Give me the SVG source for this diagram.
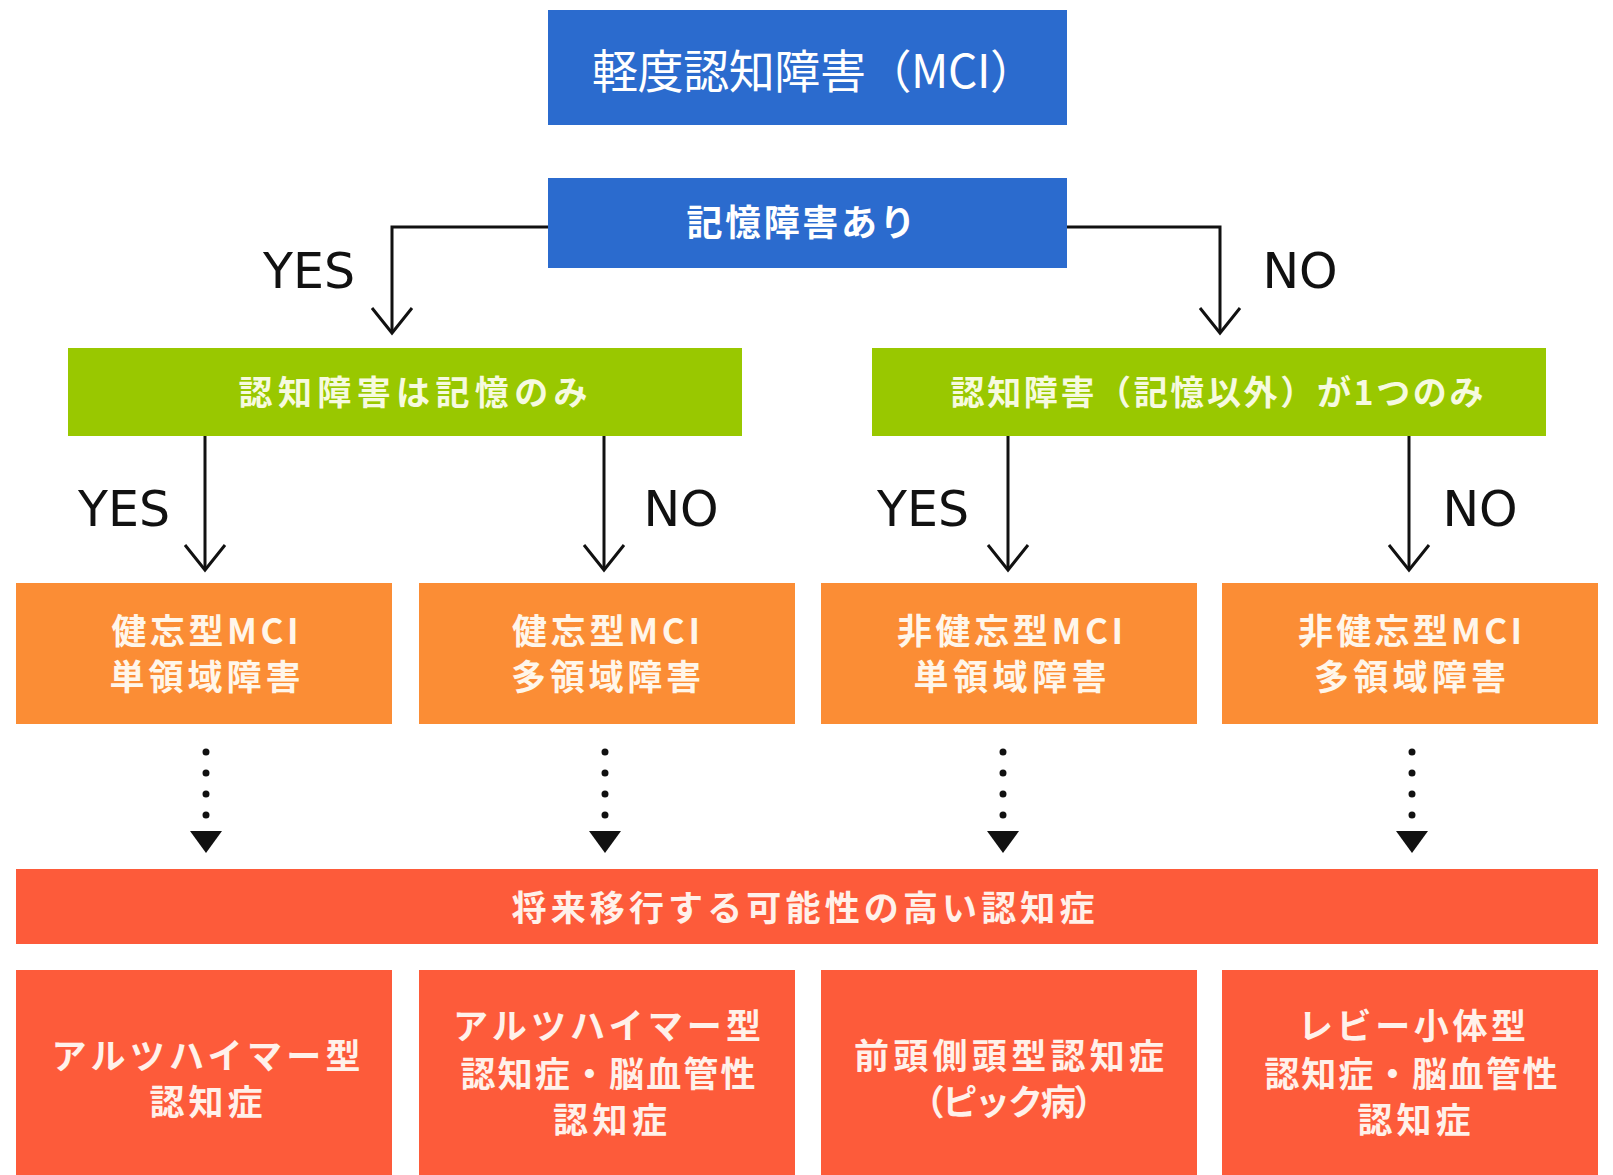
<svg xmlns="http://www.w3.org/2000/svg" width="1613" height="1175" viewBox="0 0 1613 1175">
<style>
.jp{font-family:"Noto Sans CJK JP","Noto Sans",sans-serif;fill:#fff;text-anchor:middle}
.t{font-size:46px;font-weight:normal}
.b{font-size:36px;font-weight:bold}
.g{font-size:34px;font-weight:bold;fill:#f6fadf}
.o{font-size:35px;font-weight:bold;fill:#fff6ea}
.r{font-size:35px;font-weight:bold;fill:#fff1ea}
.lbl{font-family:"DejaVu Sans","Noto Sans",sans-serif;font-size:49px;fill:#111;text-anchor:middle}
.blue{fill:#2b6bce}
.green{fill:#99c800}
.orange{fill:#fb8d35}
.red{fill:#fd5b3a}
.ln{fill:none;stroke:#111;stroke-width:3}
.dots{fill:none;stroke:#111;stroke-width:7;stroke-linecap:round;stroke-dasharray:0 21}
.tri{fill:#111}
</style>
<rect width="1613" height="1175" fill="#fff"/>

<g id="connectors">
  <path class="ln" d="M548 227 H392 V331"/>
  <path class="ln" d="M372 308 L392 333 L412 308"/>
  <path class="ln" d="M1067 227 H1220 V331"/>
  <path class="ln" d="M1200 308 L1220 333 L1240 308"/>
  <path class="ln" d="M205 436 V568"/>
  <path class="ln" d="M185 545 L205 570 L225 545"/>
  <path class="ln" d="M604 436 V568"/>
  <path class="ln" d="M584 545 L604 570 L624 545"/>
  <path class="ln" d="M1008 436 V568"/>
  <path class="ln" d="M988 545 L1008 570 L1028 545"/>
  <path class="ln" d="M1409 436 V568"/>
  <path class="ln" d="M1389 545 L1409 570 L1429 545"/>
  <path class="dots" d="M206 752 V816"/>
  <path class="tri" d="M190 831 H222 L206 853 Z"/>
  <path class="dots" d="M605 752 V816"/>
  <path class="tri" d="M589 831 H621 L605 853 Z"/>
  <path class="dots" d="M1003 752 V816"/>
  <path class="tri" d="M987 831 H1019 L1003 853 Z"/>
  <path class="dots" d="M1412 752 V816"/>
  <path class="tri" d="M1396 831 H1428 L1412 853 Z"/>
  <text class="lbl" x="309" y="288">YES</text>
  <text class="lbl" x="1300" y="288">NO</text>
  <text class="lbl" x="124" y="526">YES</text>
  <text class="lbl" x="681" y="526">NO</text>
  <text class="lbl" x="923" y="526">YES</text>
  <text class="lbl" x="1480" y="526">NO</text>
</g>

<g id="n-mci">
  <rect class="blue" x="548" y="10" width="519" height="115"/>
  <text class="jp t" x="814" y="88" textLength="444" lengthAdjust="spacing">軽度認知障害（MCI）</text>
</g>
<g id="n-memory">
  <rect class="blue" x="548" y="178" width="519" height="90"/>
  <text class="jp b" x="801" y="236" textLength="229" lengthAdjust="spacing">記憶障害あり</text>
</g>
<g id="n-memonly">
  <rect class="green" x="68" y="348" width="674" height="88"/>
  <text class="jp g" x="413" y="405" textLength="349" lengthAdjust="spacing">認知障害は記憶のみ</text>
</g>
<g id="n-oneother">
  <rect class="green" x="872" y="348" width="674" height="88"/>
  <text class="jp g" x="1217" y="405" textLength="533" lengthAdjust="spacing">認知障害（記憶以外）が1つのみ</text>
</g>

<g id="n-amnestic-single">
  <rect class="orange" x="16" y="583" width="376" height="141"/>
  <text class="jp o" x="205" y="644" textLength="187" lengthAdjust="spacing">健忘型MCI</text>
  <text class="jp o" x="205" y="690" textLength="191" lengthAdjust="spacing">単領域障害</text>
</g>
<g id="n-amnestic-multi">
  <rect class="orange" x="419" y="583" width="376" height="141"/>
  <text class="jp o" x="606" y="644" textLength="188" lengthAdjust="spacing">健忘型MCI</text>
  <text class="jp o" x="606" y="690" textLength="190" lengthAdjust="spacing">多領域障害</text>
</g>
<g id="n-nonamnestic-single">
  <rect class="orange" x="821" y="583" width="376" height="141"/>
  <text class="jp o" x="1010" y="644" textLength="226" lengthAdjust="spacing">非健忘型MCI</text>
  <text class="jp o" x="1010" y="690" textLength="193" lengthAdjust="spacing">単領域障害</text>
</g>
<g id="n-nonamnestic-multi">
  <rect class="orange" x="1222" y="583" width="376" height="141"/>
  <text class="jp o" x="1410" y="644" textLength="224" lengthAdjust="spacing">非健忘型MCI</text>
  <text class="jp o" x="1410" y="690" textLength="192" lengthAdjust="spacing">多領域障害</text>
</g>

<g id="n-future">
  <rect class="red" x="16" y="869" width="1582" height="75"/>
  <text class="jp r" x="803" y="921" textLength="583" lengthAdjust="spacing">将来移行する可能性の高い認知症</text>
</g>

<g id="n-alz">
  <rect class="red" x="16" y="970" width="376" height="215"/>
  <text class="jp r" x="206" y="1069" textLength="309" lengthAdjust="spacing">アルツハイマー型</text>
  <text class="jp r" x="206" y="1115" textLength="113" lengthAdjust="spacing">認知症</text>
</g>
<g id="n-alz-vasc">
  <rect class="red" x="419" y="970" width="376" height="215"/>
  <text class="jp r" x="607" y="1039" textLength="308" lengthAdjust="spacing">アルツハイマー型</text>
  <text class="jp r" x="608" y="1087" textLength="295" lengthAdjust="spacing">認知症・脳血管性</text>
  <text class="jp r" x="610" y="1133" textLength="114" lengthAdjust="spacing">認知症</text>
</g>
<g id="n-ftd">
  <rect class="red" x="821" y="970" width="376" height="215"/>
  <text class="jp r" x="1009" y="1069" textLength="310" lengthAdjust="spacing">前頭側頭型認知症</text>
  <text class="jp r" x="1009" y="1115" textLength="199" lengthAdjust="spacing">（ピック病）</text>
</g>
<g id="n-lewy">
  <rect class="red" x="1222" y="970" width="376" height="215"/>
  <text class="jp r" x="1412" y="1039" textLength="228" lengthAdjust="spacing">レビー小体型</text>
  <text class="jp r" x="1411" y="1087" textLength="293" lengthAdjust="spacing">認知症・脳血管性</text>
  <text class="jp r" x="1414" y="1133" textLength="113" lengthAdjust="spacing">認知症</text>
</g>
</svg>
